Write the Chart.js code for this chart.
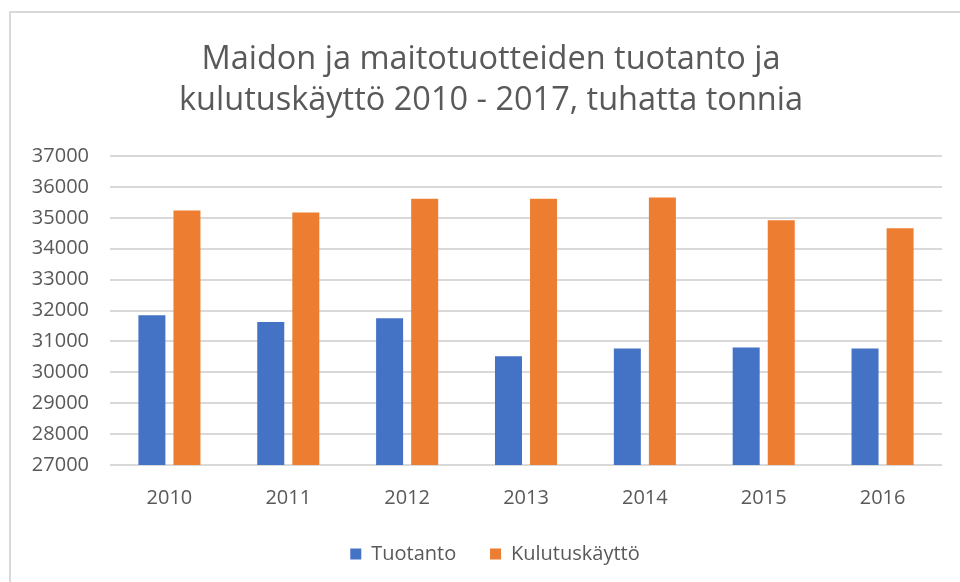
<!DOCTYPE html>
<html>
<head>
<meta charset="utf-8">
<script src="https://cdn.jsdelivr.net/npm/chart.js@4"></script>
<style>
  html, body { margin: 0; padding: 0; background: #fff; }
  #wrap { position: relative; width: 960px; height: 582px; overflow: hidden; }
  #frame { position: absolute; left: 9px; top: 11px; width: 1000px; height: 1000px;
           border-left: 2px solid #d9d9d9; border-top: 2px solid #d9d9d9; box-sizing: border-box; }
  canvas { position: absolute; left: 0; top: 0; }
</style>
</head>
<body>
<div id="wrap">
  <div id="frame"></div>
  <canvas id="c" width="960" height="582"></canvas>
</div>
<script>
const categories = ['2010', '2011', '2012', '2013', '2014', '2015', '2016'];
const tuotanto = [31850, 31630, 31750, 30520, 30770, 30800, 30770];
const kulutuskaytto = [35240, 35170, 35620, 35620, 35660, 34920, 34660];
const titleLines = ['Maidon ja maitotuotteiden tuotanto ja', 'kulutuskäyttö 2010 - 2017, tuhatta tonnia'];
const yMin = 27000, yMax = 37000, yStep = 1000;

const FONT = '"Open Sans", Lato, sans-serif';
const TEXT = '#595959';

const boxShift = {
  id: 'boxShift',
  afterLayout(chart) {
    if (chart.legend) { chart.legend.left += 24; chart.legend.right += 24; }
    if (chart.titleBlock) { chart.titleBlock.left += 20; chart.titleBlock.right += 20; }
  }
};

new Chart(document.getElementById('c'), {
  type: 'bar',
  data: {
    labels: categories,
    datasets: [
      { label: 'Tuotanto', data: tuotanto, backgroundColor: '#4472C4' },
      { label: 'Kulutuskäyttö', data: kulutuskaytto, backgroundColor: '#ED7D31' }
    ]
  },
  plugins: [boxShift],
  options: {
    responsive: false,
    animation: false,
    devicePixelRatio: 1,
    categoryPercentage: 0.59,
    barPercentage: 0.77,
    layout: { padding: { left: 0, right: 18, top: 0, bottom: 8 } },
    plugins: {
      title: {
        display: true,
        text: titleLines,
        color: TEXT,
        font: { family: FONT, size: 32.5, weight: 'normal', lineHeight: 41 / 32.5 },
        padding: { top: 39, bottom: 35 }
      },
      legend: {
        position: 'bottom',
        labels: {
          color: TEXT,
          font: { family: FONT, size: 20 },
          boxWidth: 11,
          boxHeight: 11,
          padding: 13,
          generateLabels: (chart) => {
            const items = Chart.defaults.plugins.legend.labels.generateLabels(chart);
            items.forEach((it, i) => { if (i < items.length - 1) it.text = it.text + '    '; });
            return items;
          }
        }
      },
      tooltip: { enabled: false }
    },
    scales: {
      x: {
        grid: { display: false, drawTicks: false },
        border: { display: false },
        ticks: { color: TEXT, font: { family: FONT, size: 20 }, padding: 21 }
      },
      y: {
        min: yMin,
        max: yMax,
        afterFit: (s) => { s.width = 110; },
        grid: { color: '#d9d9d9', lineWidth: 2, drawTicks: false },
        border: { display: false },
        ticks: {
          stepSize: yStep, color: TEXT, font: { family: FONT, size: 20 }, padding: 21,
          callback: (v) => String(v)
        }
      }
    }
  }
});
</script>
</body>
</html>
